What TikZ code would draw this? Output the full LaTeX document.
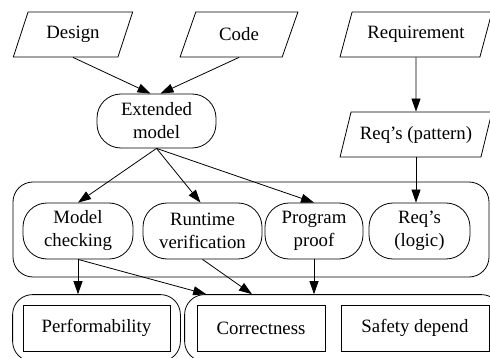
\documentclass[tikz,border=0pt]{standalone}
\usepackage{fontspec}
\newfontfamily\labelfont{Liberation Serif}
\usetikzlibrary{shapes.geometric,positioning,fit,arrows.meta}
\tikzset{
  data/.style={trapezium,draw,trapezium left angle=67,trapezium right angle=113,
    trapezium stretches=true,minimum height=45pt},
  method/.style={rectangle,rounded corners=24pt,draw,align=center,minimum height=56pt},
  property/.style={rectangle,draw,minimum height=46pt},
  group/.style={rectangle,rounded corners=20pt,draw,inner sep=10pt},
  flow/.style={-{Triangle[length=13pt,width=9pt]}}
}
\begin{document}
\begin{tikzpicture}[x=1pt,y=-1pt,line width=0.8pt,font=\labelfont\fontsize{18.8}{23}\selectfont]
          \useasboundingbox (0,0) rectangle (490,358);
          \clip (0,0) rectangle (490,358);
          \node[data,minimum width=120pt] (design) at (73,34.5) {Design};
          \node[data,minimum width=118pt] (code) at (239,34.5) {Code};
          \node[data,minimum width=152pt] (req) at (416,34.5) {Requirement};
          \node[data,minimum width=152pt] (reqp) at (416,134.5) {Req’s (pattern)};
          \node[method,minimum width=119pt,minimum height=54pt] (ext) at (156.5,121) {Extended\\model};
          % verification techniques
          \node[method,minimum width=110pt] (mc) at (78,231) {Model\\checking};
          \node[method,minimum width=119pt] (rv) at (202.5,231) {Runtime\\verification};
          \node[method,minimum width=98pt] (pp) at (314,231) {Program\\proof};
          \node[method,minimum width=101pt] (rl) at (419.5,231) {Req’s\\(logic)};
          \node[group,minimum width=476pt,minimum height=95pt] (verify) at (251,229.5) {};
          % properties
          \node[property,minimum width=147pt] (perf) at (96.5,328) {Performability};
          \node[property,minimum width=128pt] (corr) at (261,328) {Correctness};
          \node[property,minimum width=148pt] (safe) at (415,328) {Safety depend};
          \node[group,fit=(perf)] (perfgroup) {};
          \node[group,fit=(corr)(safe),inner xsep=12pt] (corrgroup) {};
          \draw[flow] (design.south) -- ([xshift=-6pt]ext.north);
          \draw[flow] (code.south) -- ([xshift=4pt]ext.north);
          \draw[flow] (req.south) -- (reqp.north);
          \draw[flow] (reqp.south) -- (reqp.south |- rl.north);
          \draw[flow] (ext.south) -- (mc.north);
          \draw[flow] (ext.south) -- ([xshift=-2pt]rv.north);
          \draw[flow] (ext.south) -- (pp.north);
          \draw[flow] (mc.south) -- (mc.south |- perfgroup.north);
          \draw[flow] (mc.south) -- ([xshift=22pt]corrgroup.north west);
          \draw[flow] (rv.south) -- ([xshift=-9pt]corr.north |- corrgroup.north);
          \draw[flow] (pp.south) -- (pp.south |- corrgroup.north);
        \end{tikzpicture}
\end{document}
